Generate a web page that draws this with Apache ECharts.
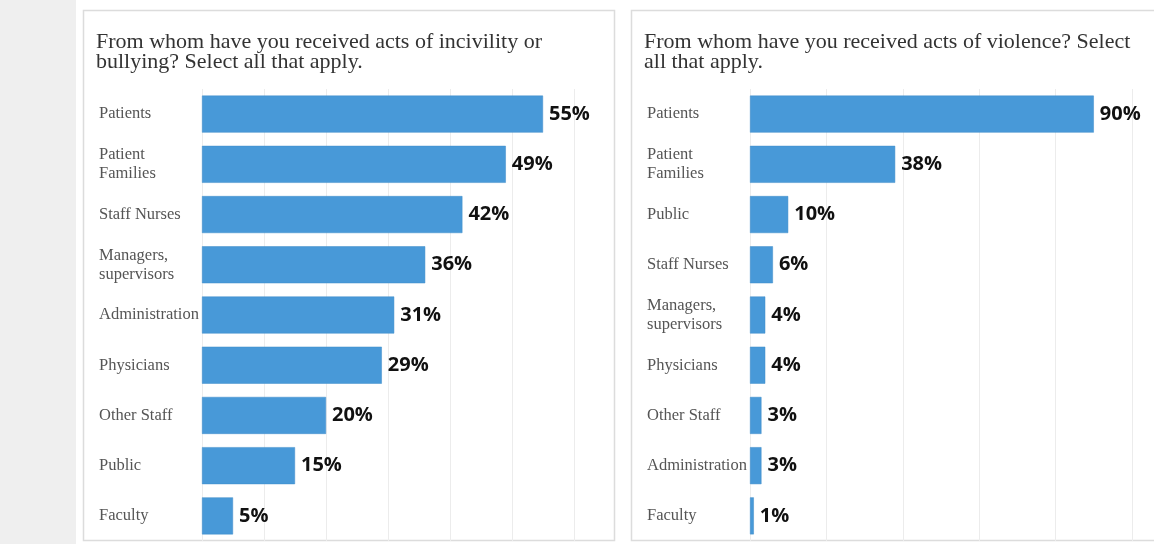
<!DOCTYPE html>
<html>
<head>
<meta charset="utf-8">
<script src="https://cdn.jsdelivr.net/npm/echarts@6/dist/echarts.min.js"></script>
<style>
  html, body { margin: 0; padding: 0; background: #ffffff; }
  #chart { width: 1154px; height: 544px; }
</style>
</head>
<body>
<div id="chart"></div>
<script>
// Survey: sources of incivility/bullying and of violence (percent of respondents)
const incivilityTitle = 'From whom have you received acts of incivility or\nbullying? Select all that apply.';
const incivilityCategories = ['Patients', 'Patient\nFamilies', 'Staff Nurses', 'Managers,\nsupervisors',
  'Administration', 'Physicians', 'Other Staff', 'Public', 'Faculty'];
const incivilityValues = [55, 49, 42, 36, 31, 29, 20, 15, 5];

const violenceTitle = 'From whom have you received acts of violence? Select\nall that apply.';
const violenceCategories = ['Patients', 'Patient\nFamilies', 'Public', 'Staff Nurses', 'Managers,\nsupervisors',
  'Physicians', 'Other Staff', 'Administration', 'Faculty'];
const violenceValues = [90, 38, 10, 6, 4, 4, 3, 3, 1];

const BAR_COLOR = '#4899d8';
const SERIF = '"Liberation Serif", "DejaVu Serif", serif';
const SANS = '"Open Sans", "DejaVu Sans", sans-serif';

function xAxisFor(gridIndex, max, interval) {
  return {
    gridIndex, type: 'value', min: 0, max, interval,
    axisLabel: { show: false }, axisLine: { show: false }, axisTick: { show: false },
    splitLine: { show: true, lineStyle: { color: '#ececec', width: 1 } }
  };
}
function yAxisFor(gridIndex, cats) {
  return {
    gridIndex, type: 'category', data: cats, inverse: true,
    axisLine: { show: false }, axisTick: { show: false },
    axisLabel: {
      align: 'left', margin: 103, color: '#555555',
      fontFamily: SERIF, fontSize: 16.5, lineHeight: 19
    }
  };
}
function barSeries(idx, values) {
  return {
    type: 'bar', xAxisIndex: idx, yAxisIndex: idx, data: values,
    barWidth: 37,
    itemStyle: { color: BAR_COLOR, borderColor: '#3f8cc9', borderWidth: 0.5 },
    label: {
      show: true, position: 'right', distance: 6, formatter: '{c}%',
      color: '#111111', fontFamily: SANS, fontWeight: 'bold', fontSize: 20
    },
    silent: true
  };
}

const chart = echarts.init(document.getElementById('chart'), null, { renderer: 'canvas' });
chart.setOption({
  animation: false,
  backgroundColor: '#ffffff',
  graphic: [
    { type: 'rect', shape: { x: 0, y: 0, width: 76, height: 544 }, style: { fill: '#efefef' }, z: -10 },
    { type: 'rect', shape: { x: 83.5, y: 10.5, width: 531, height: 530 },
      style: { fill: '#ffffff', stroke: '#dcdcdc', lineWidth: 1.5 }, z: -9 },
    { type: 'rect', shape: { x: 631.5, y: 10.5, width: 540, height: 530 },
      style: { fill: '#ffffff', stroke: '#dcdcdc', lineWidth: 1.5 }, z: -9 }
  ],
  title: [
    { text: incivilityTitle, left: 91, top: 27, padding: [5, 5, 5, 5],
      textStyle: { fontFamily: SERIF, fontSize: 22, fontWeight: 'normal', color: '#333333', lineHeight: 20 } },
    { text: violenceTitle, left: 639, top: 27, padding: [5, 5, 5, 5],
      textStyle: { fontFamily: SERIF, fontSize: 22, fontWeight: 'normal', color: '#333333', lineHeight: 20 } }
  ],
  grid: [
    { left: 202, right: 580, top: 89, bottom: 3, containLabel: false },
    { left: 750, right: 22, top: 89, bottom: 3, containLabel: false }
  ],
  xAxis: [xAxisFor(0, 60, 10), xAxisFor(1, 100, 20)],
  yAxis: [yAxisFor(0, incivilityCategories), yAxisFor(1, violenceCategories)],
  series: [barSeries(0, incivilityValues), barSeries(1, violenceValues)]
});
</script>
</body>
</html>
